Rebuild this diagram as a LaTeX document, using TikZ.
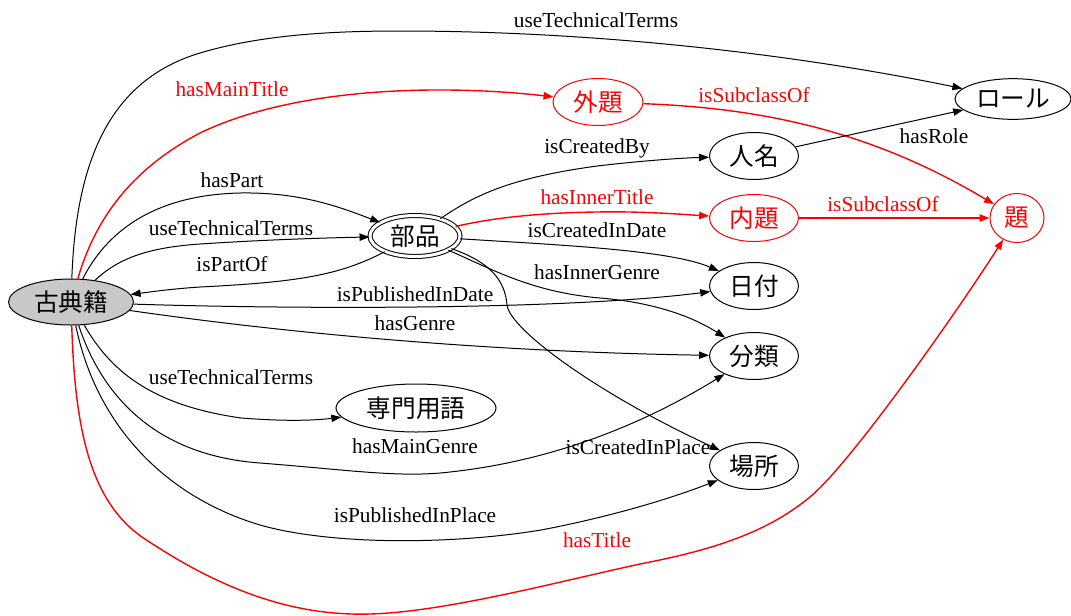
\documentclass[tikz,border=0pt]{standalone}
\usepackage{fontspec}
\setmainfont{Liberation Serif}
\newfontfamily\cjk{Noto Sans CJK JP}
\usetikzlibrary{shapes.geometric,arrows.meta}
\definecolor{nodegray}{RGB}{200,200,200}
\begin{document}
\begin{tikzpicture}[x=0.75pt,y=-0.75pt,
  cls/.style={ellipse,draw,line width=0.75pt,inner sep=0pt,
    minimum width=66.75pt,minimum height=35.25pt,
    font=\cjk\fontsize{18.5}{20}\selectfont},
  redcls/.style={cls,draw=red,text=red},
  rel/.style={line width=0.75pt,-{Triangle[length=7.5pt,width=5.5pt]}},
  redrel/.style={rel,draw=red,line width=1.05pt},
  lbl/.style={inner sep=0pt,font=\fontsize{16}{18}\selectfont},
  redlbl/.style={lbl,text=red}]
\useasboundingbox (0,0) rectangle (1071,615);

% classes
\node[cls,fill=nodegray,minimum width=93.75pt,minimum height=34.5pt] (koten) at (71,302) {古典籍};
\node[cls,double,double distance=2.25pt,minimum width=67.5pt,minimum height=30.75pt] (buhin) at (415,236) {部品};
\node[redcls,minimum width=67.5pt] (gedai) at (598,102) {外題};
\node[cls,minimum width=87pt,minimum height=30.5pt] (role) at (1013,99) {ロール};
\node[cls] (jinmei) at (754,156) {人名};
\node[redcls] (naidai) at (754,218) {内題};
\node[redcls,minimum width=40.5pt,minimum height=36.75pt] (dai) at (1017,218) {題};
\node[cls] (hiduke) at (754,286) {日付};
\node[cls] (bunrui) at (754,356) {分類};
\node[cls] (basho) at (754,466) {場所};
\node[cls,minimum width=120pt,minimum height=36pt] (senmon) at (416,408) {専門用語};

% relations from 古典籍
\draw[rel] (koten) .. controls (76,160) and (110,80) .. (200,53)
  .. controls (260,35) and (330,31) .. (400,31)
  .. controls (600,31) and (800,55) .. (role);
\draw[redrel] (koten) .. controls (95,220) and (130,170) .. (200,133)
  .. controls (300,85) and (450,85) .. (gedai);
\draw[rel] (koten) .. controls (105,235) and (150,195) .. (240,193)
  .. controls (300,192) and (340,207) .. (buhin);
\draw[rel] (koten) .. controls (115,262) and (140,248) .. (200,244)
  .. controls (260,240) and (320,238) .. (buhin);
\draw[rel] (buhin) .. controls (340,275) and (300,282) .. (200,287)
  .. controls (170,289) and (150,292) .. (koten);
\draw[rel] (koten) .. controls (250,308) and (550,312) .. (hiduke);
\draw[rel] (koten) .. controls (300,335) and (500,352) .. (bunrui);
\draw[rel] (koten) .. controls (110,370) and (150,405) .. (241,418)
  .. controls (280,421) and (310,421) .. (senmon);
\draw[rel] (koten) .. controls (100,390) and (150,455) .. (260,463)
  .. controls (350,470) and (400,478) .. (450,472)
  .. controls (560,460) and (650,420) .. (bunrui);
\draw[rel] (koten) .. controls (95,420) and (160,495) .. (260,525)
  .. controls (330,545) and (450,545) .. (541,530)
  .. controls (620,515) and (680,495) .. (basho);
\draw[redrel] (koten) .. controls (75,430) and (90,505) .. (148,541)
  .. controls (230,595) and (300,616) .. (370,614)
  .. controls (450,612) and (580,576) .. (650,562)
  .. controls (720,548) and (770,530) .. (810,497)
  .. controls (850,464) and (955,315) .. (dai);

% relations from 部品
\draw[rel] (buhin) .. controls (475,195) and (510,178) .. (597,166)
  .. controls (640,161) and (680,158) .. (jinmei);
\draw[redrel] (buhin) .. controls (500,216) and (560,211) .. (630,212)
  .. controls (670,213) and (690,215) .. (naidai);
\draw[rel] (buhin) .. controls (560,245) and (670,250) .. (hiduke);
\draw[rel] (buhin) .. controls (490,268) and (530,292) .. (600,298)
  .. controls (650,302) and (690,315) .. (bunrui);
\draw[rel] (buhin) .. controls (490,262) and (505,280) .. (507,305)
  .. controls (510,330) and (600,395) .. (basho);

% other relations
\draw[redrel] (gedai) .. controls (760,108) and (870,130) .. (dai);
\draw[rel] (jinmei) -- (role);
\draw[redrel] (naidai) -- (dai);

% relation labels
\node[lbl] (l1) at (596,20) {useTechnicalTerms};
\node[redlbl] (l2) at (232,89) {hasMainTitle};
\node[redlbl] (l3) at (754,95) {isSubclassOf};
\node[lbl] (l4) at (934,136) {hasRole};
\node[lbl] (l5) at (597,148) {isCreatedBy};
\node[lbl] (l6) at (232,180) {hasPart};
\node[redlbl] (l7) at (597,197) {hasInnerTitle};
\node[redlbl] (l8) at (883,204) {isSubclassOf};
\node[lbl] (l9) at (231,228) {useTechnicalTerms};
\node[lbl] (l10) at (597,230) {isCreatedInDate};
\node[lbl] (l11) at (232,264) {isPartOf};
\node[lbl] (l12) at (597,272) {hasInnerGenre};
\node[lbl] (l13) at (415,294) {isPublishedInDate};
\node[lbl] (l14) at (415,323) {hasGenre};
\node[lbl] (l15) at (231,377) {useTechnicalTerms};
\node[lbl] (l16) at (415,446) {hasMainGenre};
\node[lbl] (l17) at (638,447) {isCreatedInPlace};
\node[lbl] (l18) at (415,515) {isPublishedInPlace};
\node[redlbl] (l19) at (597,540) {hasTitle};
\end{tikzpicture}
\end{document}
